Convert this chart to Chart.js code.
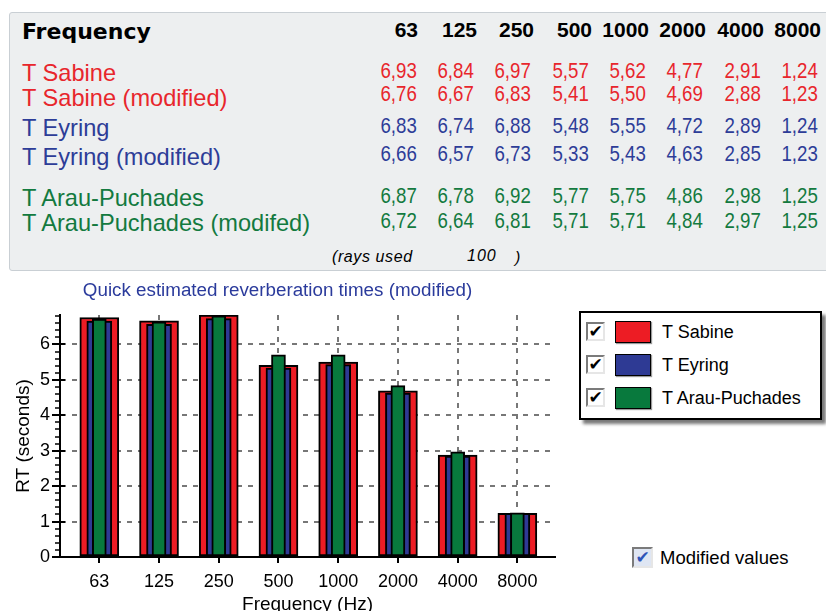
<!DOCTYPE html>
<html><head><meta charset="utf-8">
<script src="https://cdn.jsdelivr.net/npm/chart.js@4/dist/chart.umd.min.js"></script>
<style>
html,body{margin:0;padding:0;width:826px;height:611px;overflow:hidden;background:#fff;font-family:"Liberation Sans",Arial,sans-serif;}
#panel{position:absolute;left:9px;top:12px;width:830px;height:259px;background:#edeff0;border:1px solid #c9cfd4;border-radius:3px;box-sizing:border-box;}
.t{position:absolute;white-space:nowrap;}
.num{transform:scaleX(0.85);transform-origin:right center;}
#chartBox{position:absolute;left:0;top:270px;width:560px;height:350px;}
#legend{position:absolute;left:579px;top:311px;width:243px;height:109px;box-sizing:border-box;border:2px solid #000;background:#fff;box-shadow:4px 4px 3px #7a7a7a;}
.cb{position:absolute;width:19px;height:19px;box-sizing:border-box;border:2px solid;border-color:#7b7b7b #e6e6e6 #e6e6e6 #7b7b7b;background:#fff;font-family:"DejaVu Sans",sans-serif;font-weight:bold;font-size:17px;line-height:15px;text-align:center;color:#000;overflow:hidden;}
.sw{position:absolute;width:36px;height:22px;box-sizing:border-box;border:1.5px solid #000;box-shadow:1px 1px 1px #999;}
.lt{position:absolute;font-size:18px;line-height:22px;color:#000;white-space:nowrap;}
</style></head>
<body>
<div id="panel"></div>
<div id="table"></div>
<div id="chartBox"><canvas id="c" width="560" height="350"></canvas></div>
<div id="legend"></div>
<div class="cb" style="left:632px;top:547px;width:21px;height:21px;background:#dfe6f3;color:#2f55b8;font-size:17px;line-height:17px;">✔</div>
<div class="lt" style="left:660px;top:547px;font-size:18.5px;">Modified values</div>
<script>
// ---- data ----
const frequencies = ['63','125','250','500','1000','2000','4000','8000'];
const sabine      = [6.93, 6.84, 6.97, 5.57, 5.62, 4.77, 2.91, 1.24];
const sabineMod   = [6.76, 6.67, 6.83, 5.41, 5.50, 4.69, 2.88, 1.23];
const eyring      = [6.83, 6.74, 6.88, 5.48, 5.55, 4.72, 2.89, 1.24];
const eyringMod   = [6.66, 6.57, 6.73, 5.33, 5.43, 4.63, 2.85, 1.23];
const arau        = [6.87, 6.78, 6.92, 5.77, 5.75, 4.86, 2.98, 1.25];
const arauMod     = [6.72, 6.64, 6.81, 5.71, 5.71, 4.84, 2.97, 1.25];
const yTicks      = [0, 1, 2, 3, 4, 5, 6];
const seriesNames = ['T Sabine', 'T Eyring', 'T Arau-Puchades'];
const raysUsed    = '100';

// ---- styles ----
const RED = '#ed1c24', BLUE = '#2e3a94', GREEN = '#08793d';
const TXT_RED = '#e8262c', TXT_BLUE = '#2d3d98', TXT_GREEN = '#137a3f';

// ---- table ----
const table = document.getElementById('table');
function addText(txt, opts) {
  const d = document.createElement('div');
  d.className = 't' + (opts.cls ? ' ' + opts.cls : '');
  d.textContent = txt;
  const L = opts.lh || Math.round(opts.size * 1.2);
  d.style.fontSize = opts.size + 'px';
  d.style.lineHeight = L + 'px';
  d.style.top = (opts.cy - L / 2) + 'px';
  if (opts.right !== undefined) d.style.right = (826 - opts.right) + 'px';
  else d.style.left = opts.left + 'px';
  if (opts.color) d.style.color = opts.color;
  if (opts.weight) d.style.fontWeight = opts.weight;
  if (opts.family) d.style.fontFamily = opts.family;
  if (opts.style) d.style.fontStyle = opts.style;
  if (opts.ls) d.style.letterSpacing = opts.ls;
  table.appendChild(d);
  return d;
}
addText('Frequency', {left: 22, cy: 31.5, size: 22, weight: 'bold', family: '"DejaVu Sans",sans-serif', color: '#000'});
const headRight = [418, 477, 534, 592, 649, 706, 764, 821];
const numRight  = [416.5, 473.5, 531, 588.5, 646, 703, 760.5, 817.5];
frequencies.forEach((f, i) => addText(f, {right: headRight[i], cy: 29.2, size: 21, weight: 'bold', color: '#000'}));

const rows = [
  {label: 'T Sabine', vals: sabine, color: TXT_RED, cyL: 73.2, cyN: 70.5},
  {label: 'T Sabine (modified)', vals: sabineMod, color: TXT_RED, cyL: 97.5, cyN: 93.9},
  {label: 'T Eyring', vals: eyring, color: TXT_BLUE, cyL: 128.2, cyN: 125.5},
  {label: 'T Eyring (modified)', vals: eyringMod, color: TXT_BLUE, cyL: 156.5, cyN: 153.9},
  {label: 'T Arau-Puchades', vals: arau, color: TXT_GREEN, cyL: 198.2, cyN: 195.5},
  {label: 'T Arau-Puchades (modifed)', vals: arauMod, color: TXT_GREEN, cyL: 222.5, cyN: 220.5}
];
rows.forEach(r => {
  addText(r.label, {left: 22, cy: r.cyL, size: 23.6, color: r.color});
  r.vals.forEach((v, i) => addText(v.toFixed(2).replace('.', ','), {right: numRight[i], cy: r.cyN, size: 22, color: r.color, cls: 'num'}));
});
addText('(rays used', {left: 332, cy: 256, size: 16, style: 'italic', color: '#000', ls: '0.6px'});
addText(raysUsed, {left: 467, cy: 255, size: 16, style: 'italic', color: '#000', ls: '1px'});
addText(')', {left: 515, cy: 257, size: 16, style: 'italic', color: '#000'});

// ---- legend ----
const legend = document.getElementById('legend');
const swColors = [RED, BLUE, GREEN];
seriesNames.forEach((n, i) => {
  const top = 8 + i * 33;
  legend.insertAdjacentHTML('beforeend',
    `<div class="cb" style="left:5px;top:${top+1}px">✔</div>` +
    `<div class="sw" style="left:34px;top:${top}px;background:${swColors[i]}"></div>` +
    `<div class="lt" style="left:81px;top:${top}px">${n}</div>`);
});

// ---- chart ----
const minorTicks = {
  id: 'minorTicks',
  afterDraw(chart) {
    const {ctx, scales: {x, y}} = chart;
    ctx.save();
    ctx.strokeStyle = '#000';
    const left = y.right;
    for (let k = 0; k * 0.2 <= y.max + 1e-9; k++) {
      const v = k * 0.2;
      const py = Math.round(y.getPixelForValue(v));
      const major = k % 5 === 0;
      ctx.beginPath();
      if (major) { ctx.lineWidth = 2; ctx.moveTo(left - 8, py); ctx.lineTo(left + 5, py); }
      else { ctx.lineWidth = 1.5; ctx.moveTo(left - 5, py); ctx.lineTo(left, py); }
      ctx.stroke();
    }
    ctx.lineWidth = 2;
    const bottom = x.top;
    frequencies.forEach((f, i) => {
      const px = Math.round(x.getPixelForValue(i));
      ctx.beginPath(); ctx.moveTo(px, bottom); ctx.lineTo(px, bottom + 6); ctx.stroke();
    });
    ctx.restore();
  }
};

const mk = arr => arr.map((v, i) => ({x: i, y: v}));
new Chart(document.getElementById('c'), {
  type: 'bar',
  data: {
    datasets: [
      {label: seriesNames[0], data: mk(sabineMod), backgroundColor: RED, barThickness: 39, order: 3},
      {label: seriesNames[1], data: mk(eyringMod), backgroundColor: BLUE, barThickness: 25, order: 2},
      {label: seriesNames[2], data: mk(arauMod), backgroundColor: GREEN, barThickness: 14, order: 1}
    ]
  },
  options: {
    responsive: false,
    animation: false,
    devicePixelRatio: 1,
    datasets: {bar: {grouped: false, borderColor: '#000', borderWidth: 2, borderSkipped: false}},
    layout: {padding: {top: 0, left: 0, right: 5, bottom: 0}},
    plugins: {
      legend: {display: false},
      tooltip: {enabled: false},
      title: {
        display: true,
        text: 'Quick estimated reverberation times (modified)',
        color: '#2b3b9c',
        font: {family: '"Liberation Sans", Arial, sans-serif', size: 18.8, weight: 'normal'},
        padding: {top: 10, bottom: 12.5}
      }
    },
    scales: {
      x: {
        type: 'linear',
        offset: false,
        min: -0.658,
        max: 7.63,
        afterBuildTicks: s => { s.ticks = frequencies.map((f, i) => ({value: i})); },
        afterFit: s => { s.height = 63; },
        ticks: {
          callback: v => frequencies[v],
          color: '#000',
          font: {family: '"Liberation Sans", Arial, sans-serif', size: 18},
          padding: 14,
          maxRotation: 0,
          autoSkip: false
        },
        grid: {offset: false, color: '#777', lineWidth: 2, drawTicks: false},
        border: {display: true, color: '#000', width: 2, dash: [5, 6]},
        title: {
          display: true, text: 'Frequency (Hz)', color: '#000',
          font: {family: '"Liberation Sans", Arial, sans-serif', size: 19},
          padding: {top: 4, bottom: 4}
        }
      },
      y: {
        min: 0,
        max: 6.83,
        afterBuildTicks: s => { s.ticks = yTicks.map(v => ({value: v})); },
        afterFit: s => { s.width = 60; },
        ticks: {
          color: '#000',
          font: {family: '"Liberation Sans", Arial, sans-serif', size: 18},
          padding: 10
        },
        grid: {color: c => (c.tick && c.tick.value === 0) ? 'rgba(0,0,0,0)' : '#777', lineWidth: 2, drawTicks: false},
        border: {display: true, color: '#000', width: 2, dash: [5, 6]},
        title: {
          display: true, text: 'RT (seconds)', color: '#000',
          font: {family: '"Liberation Sans", Arial, sans-serif', size: 19},
          padding: {top: 12, bottom: 4}
        }
      }
    }
  },
  plugins: [minorTicks]
});
</script>
</body></html>
